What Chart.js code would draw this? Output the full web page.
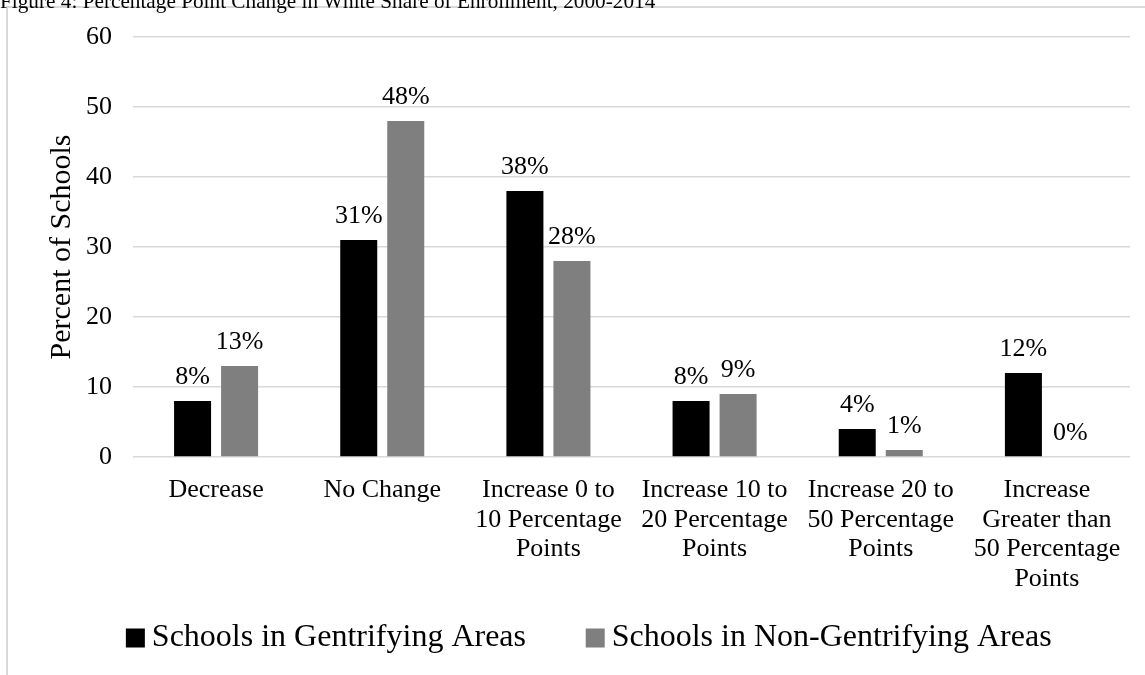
<!DOCTYPE html>
<html>
<head>
<meta charset="utf-8">
<script src="https://cdn.jsdelivr.net/npm/chart.js@4.4.1/dist/chart.umd.min.js"></script>
<style>
  html, body { margin: 0; padding: 0; background: #ffffff; overflow: hidden; }
  #wrap { position: relative; width: 1145px; height: 675px; }
  #frame { position: absolute; left: 6px; top: 6px; width: 1200px; height: 700px;
           border-left: 2px solid #d9d9d9; border-top: 2px solid #d9d9d9; }
  #title { position: absolute; left: 0px; top: -10px; font-family: 'Liberation Serif', 'Times New Roman', serif;
           font-size: 21.25px; line-height: 22px; color: #000; white-space: nowrap; }
  canvas { position: absolute; left: 0; top: 0; }
</style>
</head>
<body>
<div id="wrap">
  <div id="frame"></div>
  <canvas id="c" width="1145" height="675"></canvas>
  <div id="title">Figure 4: Percentage Point Change in White Share of Enrollment, 2000-2014</div>
</div>
<script>
const categories = [
  ["Decrease"],
  ["No Change"],
  ["Increase 0 to", "10 Percentage", "Points"],
  ["Increase 10 to", "20 Percentage", "Points"],
  ["Increase 20 to", "50 Percentage", "Points"],
  ["Increase", "Greater than", "50 Percentage", "Points"]
];
const seriesNames = ["Schools in Gentrifying Areas", "Schools in Non-Gentrifying Areas"];
const gentrifying = [8, 31, 38, 8, 4, 12];
const nonGentrifying = [13, 48, 28, 9, 1, 0];
const yMin = 0, yMax = 60, yStep = 10;
const yTitle = "Percent of Schools";

const SERIF = "'Liberation Serif', 'Times New Roman', serif";

const valueLabels = {
  id: 'valueLabels',
  afterDatasetsDraw(chart) {
    const ctx = chart.ctx;
    ctx.save();
    ctx.font = '26px ' + SERIF;
    ctx.fillStyle = '#000000';
    ctx.textAlign = 'center';
    ctx.textBaseline = 'alphabetic';
    chart.data.datasets.forEach((ds, di) => {
      const meta = chart.getDatasetMeta(di);
      meta.data.forEach((el, i) => {
        ctx.fillText(ds.data[i] + '%', el.x, el.y - 17);
      });
    });
    ctx.restore();
  }
};

new Chart(document.getElementById('c'), {
  type: 'bar',
  data: {
    labels: categories,
    datasets: [
      { label: seriesNames[0], data: gentrifying, backgroundColor: '#000000', borderWidth: 0,
        categoryPercentage: 0.566, barPercentage: 0.787 },
      { label: seriesNames[1], data: nonGentrifying, backgroundColor: '#7f7f7f', borderWidth: 0,
        categoryPercentage: 0.566, barPercentage: 0.787 }
    ]
  },
  options: {
    responsive: false,
    devicePixelRatio: 1,
    animation: false,
    events: [],
    layout: { padding: { left: 56.5, right: 15, top: 37, bottom: 11 } },
    scales: {
      x: {
        grid: { display: false },
        border: { display: false },
        ticks: {
          color: '#000000',
          font: { family: SERIF, size: 26, lineHeight: 1.14 },
          mirror: true,
          padding: -48,
          maxRotation: 0, minRotation: 0, autoSkip: false
        },
        afterFit(scale) { scale.height = 96.3; }
      },
      y: {
        min: yMin, max: yMax,
        grid: { color: '#d9d9d9', lineWidth: 1.5, drawTicks: false },
        border: { display: false },
        ticks: {
          stepSize: yStep,
          color: '#000000',
          font: { family: SERIF, size: 26 },
          padding: 21
        },
        title: {
          display: true,
          text: yTitle,
          color: '#000000',
          font: { family: SERIF, size: 30, lineHeight: 1.2 },
          padding: { top: -12, bottom: 0 }
        },
        afterFit(scale) { scale.width = 76.5; }
      }
    },
    plugins: {
      legend: {
        position: 'bottom',
        labels: {
          usePointStyle: true,
          pointStyle: 'rect',
          boxWidth: 1,
          boxHeight: 19,
          padding: 68.7,
          color: '#000000',
          font: { family: SERIF, size: 32 }
        }
      },
      tooltip: { enabled: false },
      title: { display: false }
    }
  },
  plugins: [valueLabels]
});
</script>
</body>
</html>
